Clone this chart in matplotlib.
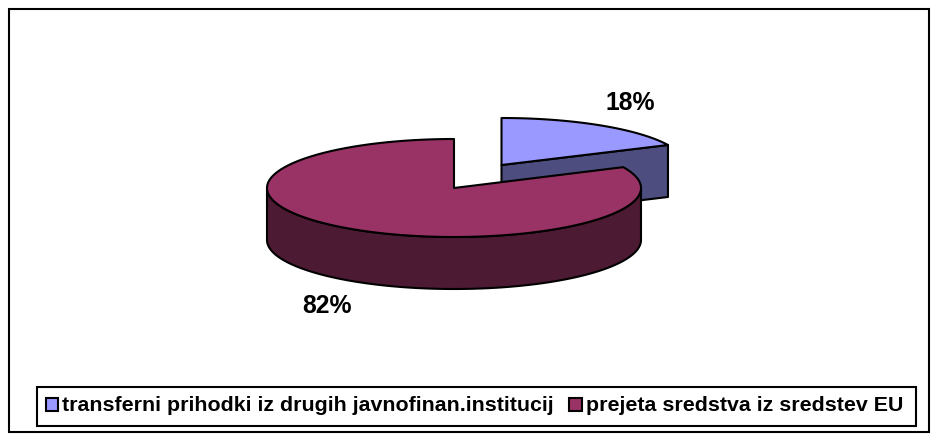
import numpy as np
import matplotlib
matplotlib.use('Agg')
import matplotlib.pyplot as plt
from matplotlib.patches import Polygon, Rectangle

labels = ['transferni prihodki iz drugih javnofinan.institucij', 'prejeta sredstva iz sredstev EU']
values = [18, 82]
pct_labels = ['18%', '82%']
top_colors = ['#9999FF', '#993366']
side_colors = ['#4D4D80', '#4D1A33']

plt.rcParams['font.family'] = ['Liberation Sans', 'DejaVu Sans']

W, H = 938, 441
DEPTH = 52


def rim(cx, cy, rx, ry, a0, a1):
    # angles in degrees clockwise from 12 o'clock
    t = np.radians(np.linspace(a0, a1, 200))
    return np.c_[cx + rx * np.sin(t), cy - ry * np.cos(t)]


def draw(ax, pts, color, z):
    ax.add_patch(Polygon(pts, closed=True, fc=color, ec='black', lw=1.5, joinstyle='round', zorder=z))


fig = plt.figure(figsize=(W / 100, H / 100), dpi=100)
ax = fig.add_axes([0, 0, 1, 1])
ax.set_xlim(0, W)
ax.set_ylim(H, 0)
ax.axis('off')

# outer frame
ax.add_patch(Rectangle((9, 9), 920, 423, fc='white', ec='black', lw=1.5, zorder=0))

angle = np.cumsum([0] + values) * 3.6

# small slice, pulled out to the upper right
c1 = (501.5, 165)
r = rim(*c1, 184, 47, angle[0], angle[1])
end = r[-1]
draw(ax, [end, end + [0, DEPTH], np.array(c1) + [0, DEPTH], c1], side_colors[0], 1)
draw(ax, np.vstack([[c1], r]), top_colors[0], 2)

# big slice
c2 = (454, 188)
r = rim(*c2, 187, 49, angle[1], angle[2])
front = rim(*c2, 187, 49, 90, 270)
draw(ax, np.vstack([front, (front + [0, DEPTH])[::-1]]), side_colors[1], 3)
draw(ax, np.vstack([[c2], r]), top_colors[1], 4)

# percent labels
ax.text(630, 103, pct_labels[0], ha='center', va='center', fontsize=17.8, fontweight='bold')
ax.text(327, 306, pct_labels[1], ha='center', va='center', fontsize=17.8, fontweight='bold')

# legend
ax.add_patch(Rectangle((37, 387), 879, 38.5, fc='white', ec='black', lw=1.5, zorder=1))
ax.add_patch(Rectangle((45.5, 397.5), 12.5, 13, fc=top_colors[0], ec='black', lw=1.5, zorder=2))
ax.text(62, 405.5, labels[0], ha='left', va='center', fontsize=15.4, fontweight='bold')
ax.add_patch(Rectangle((569, 397.5), 12.5, 13, fc=top_colors[1], ec='black', lw=1.5, zorder=2))
ax.text(586, 405.5, labels[1], ha='left', va='center', fontsize=15.4, fontweight='bold')

fig.savefig('out.png', dpi=100)
